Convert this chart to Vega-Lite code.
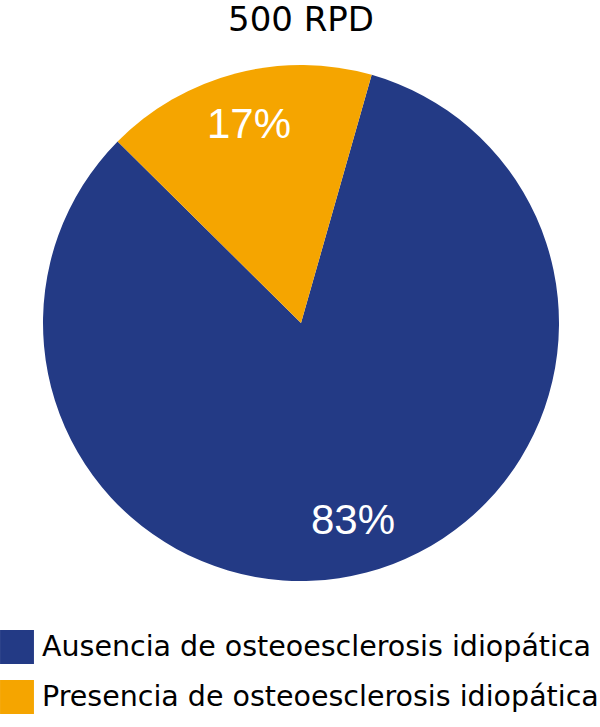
{
  "$schema": "https://vega.github.io/schema/vega-lite/v6.json",
  "width": 516,
  "height": 516,
  "autosize": {"type": "none"},
  "padding": {"top": 65, "left": 43, "right": 41, "bottom": 146},
  "background": "white",
  "title": {"text": "500 RPD", "fontSize": 34, "font": "DejaVu Sans", "fontWeight": "normal", "color": "black", "anchor": "middle", "offset": 27},
  "config": {"view": {"stroke": null}},
  "data": {"values": [
    {"grupo": "Ausencia de osteoesclerosis idiopática", "porcentaje": 83, "orden": 1, "etiqueta": "83%"},
    {"grupo": "Presencia de osteoesclerosis idiopática", "porcentaje": 17, "orden": 2, "etiqueta": "17%"}
  ]},
  "encoding": {
    "theta": {"field": "porcentaje", "type": "quantitative", "stack": true, "scale": {"range": [0.2775, 6.5607]}},
    "order": {"field": "orden", "type": "quantitative"}
  },
  "layer": [
    {
      "mark": {"type": "arc", "outerRadius": 258},
      "encoding": {
        "color": {"field": "grupo", "type": "nominal",
          "scale": {"domain": ["Ausencia de osteoesclerosis idiopática", "Presencia de osteoesclerosis idiopática"], "range": ["#233a85", "#f5a500"]},
          "legend": {"title": null, "orient": "none", "legendX": -43, "legendY": 565, "symbolType": "square", "symbolSize": 1150, "symbolStrokeWidth": 0, "labelFontSize": 28.5, "labelFont": "DejaVu Sans", "labelColor": "black", "rowPadding": 16, "labelOffset": 8, "labelLimit": 600}
        }
      }
    },
    {
      "mark": {"type": "text", "radius": 205, "fontSize": 42, "font": "Liberation Sans", "color": "white", "baseline": "middle", "align": "center"},
      "encoding": {"text": {"field": "etiqueta", "type": "nominal"}}
    }
  ]
}
